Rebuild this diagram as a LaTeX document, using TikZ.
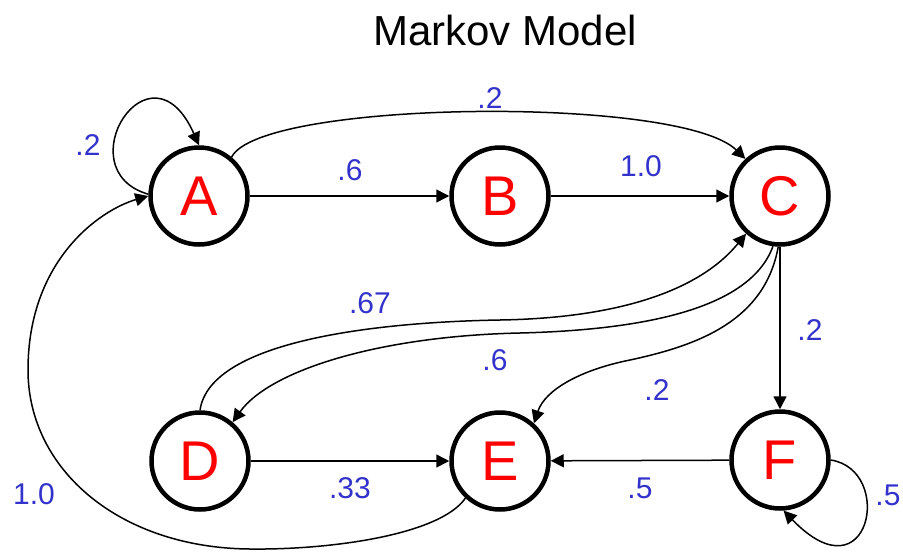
\documentclass[tikz,border=0pt]{standalone}
\usepackage{fontspec}
\setmainfont{Liberation Sans}
\usetikzlibrary{arrows.meta}
\definecolor{probblue}{RGB}{51,51,204}

\begin{document}
\begin{tikzpicture}[x=1pt, y=-1pt,
    mstate/.style={circle, draw, line width=4.5pt, minimum size=97pt, inner sep=0pt,
        text=red, font=\fontsize{56}{56}\selectfont},
    prob/.style={text=probblue, inner sep=0pt, font=\fontsize{30}{30}\selectfont},
    trans/.style={line width=1.5pt, -{Triangle[length=13pt,width=13pt]}}]
        \useasboundingbox (0,0) rectangle (903,552);
        \node[font=\fontsize{42}{42}\selectfont] (title) at (505,30) {Markov Model};
        \node[mstate] (A) at (199,196) {A};
        \node[mstate] (B) at (500,196) {B};
        \node[mstate] (C) at (780,196) {C};
        \node[mstate] (D) at (200,461) {D};
        \node[mstate] (E) at (500,461) {E};
        \node[mstate] (F) at (780,460) {F};
        \draw[trans] (A.178) .. controls (65,170) and (150,35) .. (A.north);
        \draw[trans] (A) -- (B);
        \draw[trans] (B) -- (C);
        \draw[trans] (A.50) .. controls (260,100) and (680,95) .. (C.133);
        \draw[trans] (E.227) .. controls (440,535) and (330,550) .. (250,549)
            .. controls (120,548) and (28,470) .. (28,370)
            .. controls (28,260) and (100,210) .. (A.west);
        \draw[trans] (D.north) .. controls (210,340) and (380,322) .. (500,320)
            .. controls (620,318) and (700,290) .. (C.228);
        \draw[trans] (C.262) .. controls (750,310) and (640,330) .. (520,333)
            .. controls (380,336) and (270,370) .. (D.50);
        \draw[trans] (C.268) .. controls (765,320) and (700,345) .. (630,360)
            .. controls (580,370) and (545,390) .. (E.48);
        \draw[trans] (C) -- (F);
        \draw[trans] (D) -- (E);
        \draw[trans] (F) -- (E);
        \draw[trans] (F.east) .. controls (895,470) and (870,600) .. (F.274);
        \node[prob] (pAA) at (88,145) {.2};
        \node[prob] (pAB) at (350,170) {.6};
        \node[prob] (pAC) at (490,98) {.2};
        \node[prob] (pBC) at (641,166) {1.0};
        \node[prob] (pDC) at (370,303) {.67};
        \node[prob] (pCD) at (495,360) {.6};
        \node[prob] (pCE) at (657,390) {.2};
        \node[prob] (pCF) at (810,330) {.2};
        \node[prob] (pDE) at (350,488) {.33};
        \node[prob] (pFE) at (640,488) {.5};
        \node[prob] (pFF) at (888,495) {.5};
        \node[prob] (pEA) at (34,494) {1.0};
\end{tikzpicture}
\end{document}
